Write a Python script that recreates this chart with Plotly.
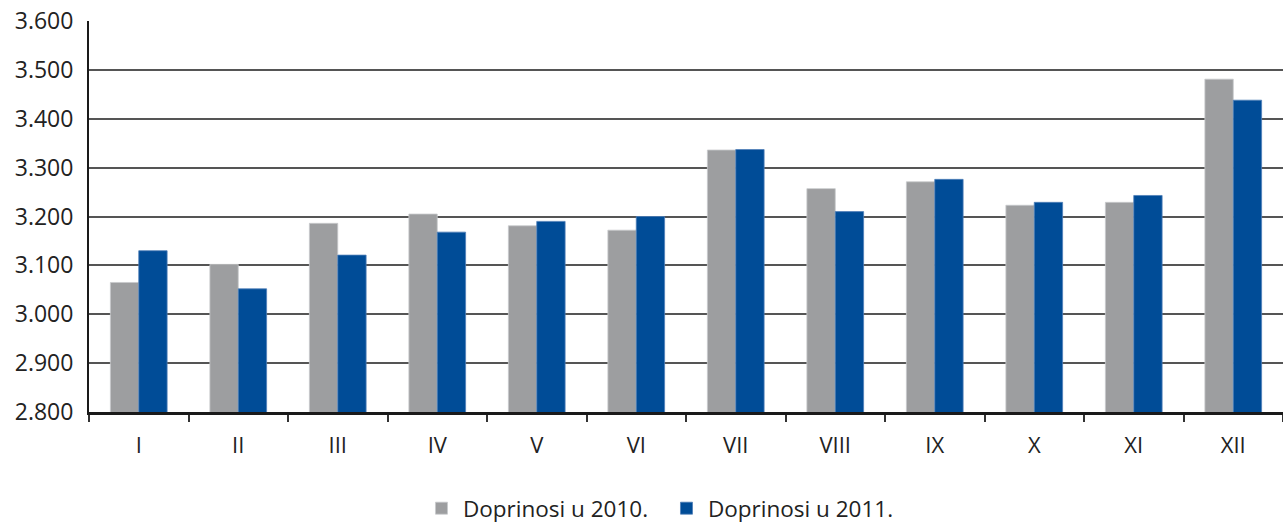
import plotly.graph_objects as go

months = ["I", "II", "III", "IV", "V", "VI", "VII", "VIII", "IX", "X", "XI", "XII"]
doprinosi_2010 = [3065, 3102, 3186, 3205, 3181, 3172, 3336, 3257, 3271, 3223, 3229, 3481]
doprinosi_2011 = [3130, 3052, 3121, 3168, 3190, 3200, 3337, 3210, 3276, 3229, 3243, 3438]
y_ticks = [2800, 2900, 3000, 3100, 3200, 3300, 3400, 3500, 3600]

font_family = "Open Sans"
text_color = "#222222"

fig = go.Figure()
fig.add_trace(go.Bar(
    x=months, y=doprinosi_2010, name="Doprinosi u 2010.",
    marker=dict(color="#9d9ea0", line=dict(width=0.8, color="#c8c9cb")),
    legend="legend",
))
fig.add_trace(go.Bar(
    x=months, y=doprinosi_2011, name="Doprinosi u 2011.",
    marker=dict(color="#004c97", line=dict(width=0.8, color="#4f7fb8")),
    legend="legend2",
))

legend_style = dict(
    orientation="h", xanchor="left", y=-0.247, yanchor="middle",
    font=dict(family=font_family, size=22.5, color=text_color),
    itemwidth=33, bgcolor="rgba(0,0,0,0)",
)

fig.update_layout(
    width=1283, height=523,
    margin=dict(l=89, r=0, t=21, b=111, autoexpand=False),
    paper_bgcolor="white", plot_bgcolor="white",
    barmode="group", bargap=0.43, bargroupgap=0,
    separators=",.",
    font=dict(family=font_family, size=23, color=text_color),
    showlegend=True,
    legend=dict(x=0.2772, **legend_style),
    legend2=dict(x=0.4824, **legend_style),
)

fig.update_xaxes(
    automargin=False,
    showline=True, linecolor="#1a1a1a", linewidth=2.5,
    ticks="outside", tickson="boundaries", ticklen=7, tickwidth=1.5, tickcolor="#333333",
    ticklabelstandoff=12,
    tickfont=dict(family=font_family, size=22, color=text_color),
    showgrid=False,
)
fig.update_yaxes(
    automargin=False,
    range=[2800, 3600], tickvals=y_ticks, tickformat=",d",
    showline=True, linecolor="#1a1a1a", linewidth=2,
    showgrid=True, gridcolor="#555555", gridwidth=1.5,
    zeroline=False, ticks="", ticklabelstandoff=9,
    ticklabeloverflow="allow",
    tickfont=dict(family=font_family, size=23, color=text_color),
)

# remove the browser's default 8px body margin so the figure sits at (0, 0)
fig.write_html(
    "out.html",
    config={"displayModeBar": False},
    post_script="document.body.style.margin='0';",
)
